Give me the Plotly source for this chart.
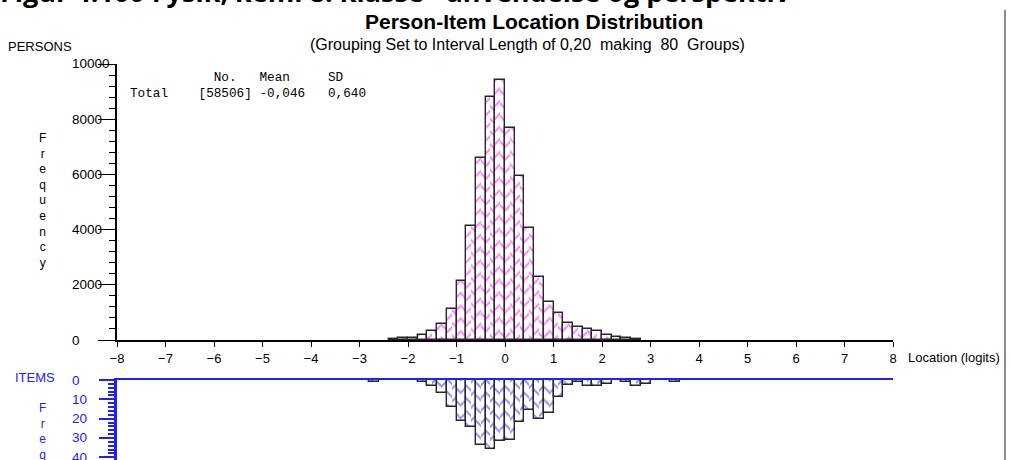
import plotly.graph_objects as go

# Person-Item Location Distribution (RUMM-style), bins of 0.2 logits
W, H = 1011, 460

# persons: bin centres (logits) and counts
person_loc = [-2.3, -2.1, -1.9, -1.7, -1.5, -1.3, -1.1, -0.9, -0.7, -0.5, -0.3, -0.1,
              0.1, 0.3, 0.5, 0.7, 0.9, 1.1, 1.3, 1.5, 1.7, 1.9, 2.1, 2.3, 2.5, 2.7]
person_count = [20, 60, 60, 175, 320, 595, 1116, 2125, 4133, 6600, 8800, 9430,
                7680, 5960, 4050, 2300, 1370, 965, 620, 473, 388, 340, 182, 97, 60, 25]

# items: bin centres and counts
item_loc = [-2.7, -1.7, -1.5, -1.3, -1.1, -0.9, -0.7, -0.5, -0.3, -0.1,
            0.1, 0.3, 0.5, 0.7, 0.9, 1.1, 1.3, 1.5, 1.7, 1.9, 2.1, 2.5, 2.7, 2.9, 3.5]
item_count = [1, 1, 3, 6.5, 14, 21, 24.5, 33.5, 35.5, 31.5,
              31, 21.5, 15.5, 20, 17, 9, 2.5, 1, 3, 3, 2, 1, 3, 2, 1]

person_ticks = [0, 2000, 4000, 6000, 8000, 10000]
item_ticks = [0, 10, 20, 30, 40]
x_ticks = list(range(-8, 9))

MAGENTA = "#ff00ff"
BLUE = "#2020ff"
FONT = "Arial, Liberation Sans, sans-serif"
MONO = "Liberation Mono, Courier New, monospace"


def px_x(px):
    return px / W


def px_y(py):
    return 1 - py / H


def add_hist(fig, loc, count, color, left_shape, right_shape, xa, ya):
    # two half-width bars give the chevron hatch, then an outline on top
    for off, shape in [(-0.05, left_shape), (0.05, right_shape)]:
        fig.add_trace(go.Bar(
            x=[c + off for c in loc], y=count, width=0.1,
            marker=dict(color="white", line=dict(width=0),
                        pattern=dict(shape=shape, fgcolor=color, bgcolor="white",
                                     size=9, solidity=0.22, fillmode="overlay")),
            xaxis=xa, yaxis=ya, showlegend=False, hoverinfo="skip"))
    fig.add_trace(go.Bar(
        x=loc, y=count, width=0.2,
        marker=dict(color="rgba(0,0,0,0)", line=dict(color="#262626", width=1.4)),
        xaxis=xa, yaxis=ya, showlegend=False))


fig = go.Figure()
add_hist(fig, person_loc, person_count, MAGENTA, "/", "\\", "x", "y")
add_hist(fig, item_loc, item_count, BLUE, "\\", "/", "x2", "y2")

xdom = [px_x(117), px_x(893)]
fig.update_layout(
    width=W, height=H,
    margin=dict(l=0, r=0, t=0, b=0, autoexpand=False),
    paper_bgcolor="white", plot_bgcolor="white",
    barmode="overlay", bargap=0,
    font=dict(family=FONT, size=13, color="black"),
    xaxis=dict(domain=xdom, range=[-8, 8], anchor="y", tickvals=x_ticks,
               ticks="outside", ticklen=5, tickcolor="black", tickwidth=1,
               showline=True, linecolor="black", linewidth=2, showgrid=False,
               zeroline=False, tickfont=dict(size=13, family=FONT)),
    yaxis=dict(domain=[px_y(340), px_y(64)], range=[0, 10000], anchor="x",
               tickvals=person_ticks, showticklabels=False,
               ticks="outside", ticklen=17, tickcolor="black",
               minor=dict(dtick=400, ticks="outside", ticklen=6, tickcolor="black"),
               showline=True, linecolor="black", linewidth=2, showgrid=False,
               zeroline=False),
    xaxis2=dict(domain=xdom, range=[-8, 8], anchor="y2", side="top",
                showticklabels=False, ticks="", showline=True, linecolor=BLUE,
                linewidth=2, showgrid=False, zeroline=False),
    yaxis2=dict(domain=[0, px_y(380)], range=[41.4, 0], anchor="x2",
                tickvals=item_ticks, showticklabels=False,
                ticks="outside", ticklen=15, tickcolor=BLUE, tickwidth=1.5,
                minor=dict(dtick=2, ticks="outside", ticklen=6, tickcolor=BLUE),
                showline=True, linecolor=BLUE, linewidth=2.5, showgrid=False,
                zeroline=False),
)

ann = []
# left-aligned tick labels like the original
for v in person_ticks:
    ann.append(dict(x=px_x(70), xref="paper", y=v, yref="y", text=str(v),
                    xanchor="left", yanchor="middle", showarrow=False,
                    font=dict(size=13.5, color="black")))
for v in item_ticks:
    ann.append(dict(x=px_x(70), xref="paper", y=v, yref="y2", text=str(v),
                    xanchor="left", yanchor="middle", showarrow=False,
                    font=dict(size=13.5, color=BLUE)))

vert = "<br>".join("Frequency")
ann += [
    dict(x=px_x(-2), y=px_y(-9), text="Figur 4.100 Fysik, kemi 8. klasse - anvendelse og perspektiv",
         xanchor="left", yanchor="middle",
         font=dict(family="Open Sans, sans-serif", size=27, color="black", weight="bold")),
    dict(x=px_x(534), y=px_y(22), text="<b>Person-Item Location Distribution</b>",
         font=dict(size=21, color="black")),
    dict(x=px_x(527), y=px_y(44),
         text="(Grouping Set to Interval Length of 0,20\u00a0 making\u00a0 80\u00a0 Groups)",
         font=dict(size=16, color="black")),
    dict(x=px_x(6), y=px_y(47), text="PERSONS", xanchor="left",
         font=dict(size=13, color="black")),
    dict(x=px_x(42), y=px_y(129), text=vert, yanchor="top",
         font=dict(size=12, color="black")),
    dict(x=px_x(13), y=px_y(377), text="ITEMS", xanchor="left",
         font=dict(size=13, color=BLUE)),
    dict(x=px_x(42), y=px_y(399), text=vert, yanchor="top",
         font=dict(size=12, color=BLUE)),
    dict(x=px_x(906), y=px_y(357), text="Location (logits)", xanchor="left",
         font=dict(size=13, color="black")),
    dict(x=px_x(128), y=px_y(77),
         text="\u00a0" * 11 + "No." + "\u00a0" * 3 + "Mean" + "\u00a0" * 5 + "SD",
         xanchor="left", font=dict(family=MONO, size=12.7)),
    dict(x=px_x(128), y=px_y(93),
         text="Total" + "\u00a0" * 4 + "[58506]" + "\u00a0" + "-0,046" + "\u00a0" * 3 + "0,640",
         xanchor="left", font=dict(family=MONO, size=12.7)),
]
for a in ann:
    a.setdefault("xref", "paper")
    a.setdefault("yref", "paper")
    a.setdefault("showarrow", False)
    a.setdefault("xanchor", "center")
    a.setdefault("yanchor", "middle")
fig.update_layout(annotations=ann)

# page border on the right
fig.add_shape(type="line", xref="paper", yref="paper",
              x0=px_x(1005), x1=px_x(1005), y0=0, y1=px_y(10),
              line=dict(color="#666666", width=1.5))

fig.write_html("out.html", config={"responsive": False, "displayModeBar": False},
               post_script="document.body.style.margin='0';document.body.style.overflow='hidden';")
